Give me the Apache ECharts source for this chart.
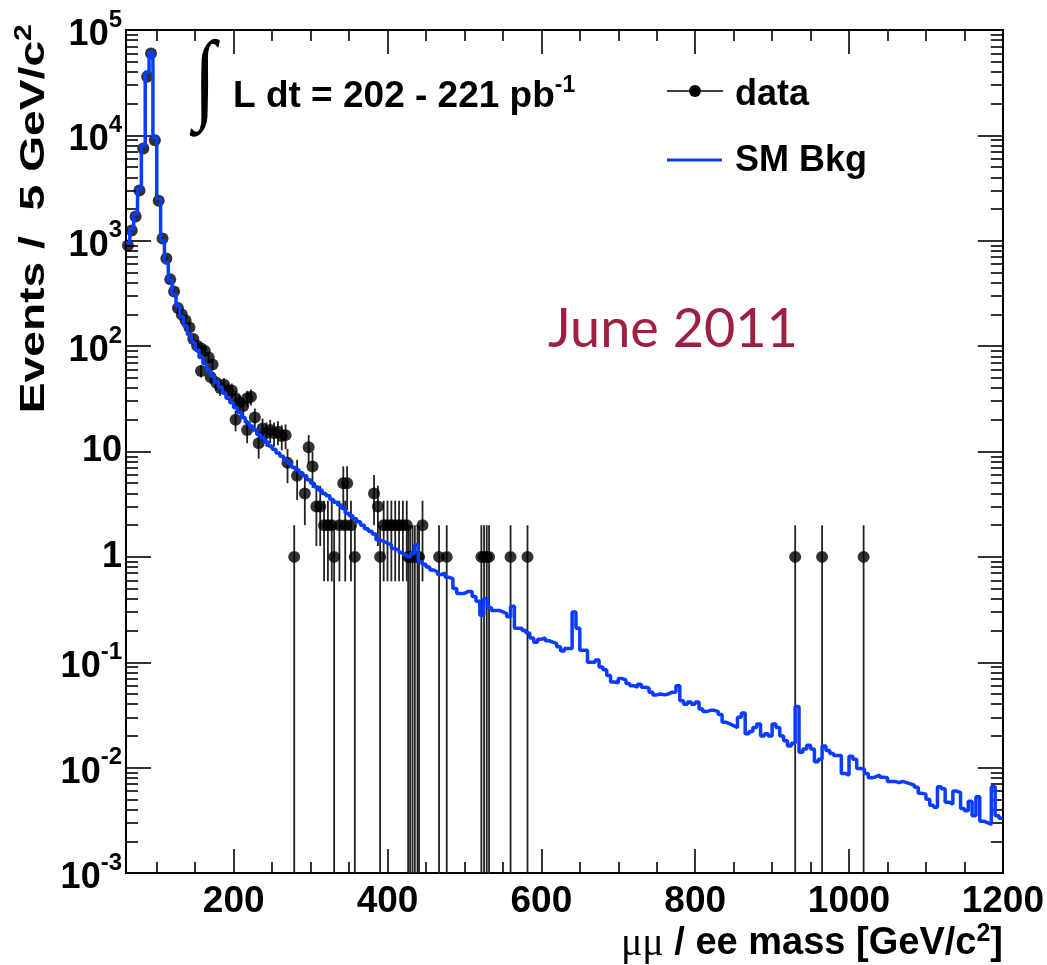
<!DOCTYPE html>
<html><head><meta charset="utf-8">
<script src="https://cdn.jsdelivr.net/npm/echarts@6/dist/echarts.min.js"></script>
<style>html,body{margin:0;padding:0;background:#fff}#c{width:1047px;height:965px}</style>
</head><body><div id="c"></div>
<script>
// ---- data ----
const dataMass = [62.5,67.5,72.5,77.5,82.5,87.5,92.5,97.5,102.5,107.5,112.5,117.5,122.5,127.5,132.5,137.5,142.5,147.5,152.5,157.5,162.5,157.5,167.5,172.5,170,177.5,182.5,187.5,192.5,197.5,202.5,202.5,207.5,212.5,217.5,222.5,217.5,227.5,232.5,237.5,242.5,247.5,252.5,257.5,262.5,267.5,270,278.7,282.5,292.5,297.5,302.5,307.5,312.5,317.5,322.5,327.5,330.6,337.5,342.5,347.5,345,352.5,357.5,382.5,387.5,390.4,395,400,405,410,415,420,425,426.8,429.4,432.5,435.5,439,441,445.5,467,477,522,525.5,529,532,560,582,930,965,1019];
const dataCounts = [900,1250,1700,3000,7500,36000,60000,9000,2400,1050,680,430,330,230,200,175,150,117,101,95,90,58,78,67,51,45,40,43,38,38,32,20,29,27,32,33,16,21,12,16.5,15,16,15,15.4,14,14.3,7.8,1,5.9,4,11,7.2,3,3,2,2,2,1,2,5,5,2,2,1,4,3,1,2,2,2,2,2,2,2,1,1,1,1,1,1,2,1,1,1,1,1,1,1,1,1,1,1];

const bkgStart = 60, bkgBinWidth = 5;
const bkgValues = [950,1300,1800,3100,8000,40000,62000,9500,2500,1000,
620,420,310,240,190,155,128,108,92,78,
68,59,52,46,41,36,32,29,26,23.5,
21,19,17.5,16,14.5,13.5,12.3,11.3,10.5,9.7,
9,8.3,7.7,7.1,6.7,6.3,5.9,5.4,5.0,4.6,
4.3,4.0,3.8,3.5,3.3,3.1,2.9,2.6,2.45,2.3,
2.15,2.0,1.85,1.75,1.65,1.45,1.4,1.35,1.3,1.2,
1.15,1.1,1.05,1.0,1.08,1.3,0.9,0.85,0.8,0.75,
0.72,0.68,0.7,0.64,0.62,0.5,0.45,0.45,0.47,0.47,
0.42,0.38,0.28,0.40,0.33,0.31,0.31,0.30,0.29,0.27,
0.34,0.21,0.21,0.2,0.19,0.17,0.155,0.165,0.17,0.16,
0.155,0.15,0.14,0.128,0.135,0.135,0.30,0.21,0.13,0.13,
0.10,0.10,0.105,0.09,0.085,0.075,0.065,0.064,0.07,0.068,
0.063,0.06,0.058,0.062,0.058,0.057,0.052,0.049,0.05,0.049,
0.05,0.052,0.052,0.06,0.043,0.04,0.042,0.04,0.042,0.036,
0.034,0.035,0.035,0.034,0.032,0.027,0.026,0.025,0.024,0.03,
0.033,0.021,0.022,0.024,0.026,0.02,0.021,0.02,0.026,0.024,
0.02,0.018,0.016,0.017,0.038,0.014,0.015,0.0163,0.015,0.0114,
0.012,0.016,0.0145,0.0136,0.013,0.013,0.0088,0.0085,0.0128,0.012,
0.0098,0.0097,0.0088,0.008,0.0082,0.0085,0.0081,0.008,0.0074,0.0074,
0.0072,0.0074,0.0072,0.007,0.0068,0.0065,0.0057,0.0056,0.005,0.0044,
0.0042,0.0066,0.0063,0.0047,0.0045,0.006,0.0058,0.0041,0.0039,0.0048,
0.0035,0.0053,0.0031,0.003,0.0029,0.0066,0.0035,0.0033];

const xMajorTicks = [200,400,600,800,1000,1200];
const xMinorTicks = [100,150,250,300,350,450,500,550,650,700,750,850,900,950,1050,1100,1150];
const yMajorTicks = [1e-3,1e-2,1e-1,1,10,100,1000,1e4,1e5];
const yMinorMult = [2,3,4,5,6,7,8,9];
const yMinorTicks = [];
[-3,-2,-1,0,1,2,3,4].forEach(k => yMinorMult.forEach(m => yMinorTicks.push(+(m*Math.pow(10,k)).toPrecision(3))));

// ---- build ----
const bkgLine = bkgValues.map((v,i) => [bkgStart + i*bkgBinWidth, v]);
bkgLine.push([bkgStart + bkgValues.length*bkgBinWidth, bkgValues[bkgValues.length-1]]);
const dataPts = dataMass.map((m,i) => [m, dataCounts[i]]);

const FONT = '"Liberation Sans", Arial, Helvetica, sans-serif';
const chart = echarts.init(document.getElementById('c'), null, {renderer:'canvas'});

function xAxisDef(pos, ticks, len, labels) {
  return {
    type:'value', position: pos, min:60, max:1200,
    axisLine:{show:true, lineStyle:{color:'#000', width:2}},
    axisTick:{show:true, inside:true, length:len, customValues:ticks, lineStyle:{color:'#000', width:1.6}},
    axisLabel: labels ? {show:true, customValues:xMajorTicks, margin:10, color:'#000',
       fontFamily:FONT, fontWeight:'bold', fontSize:37, formatter: v => String(v)} : {show:false},
    splitLine:{show:false}
  };
}
function yAxisDef(pos, ticks, len, labels) {
  return {
    type:'log', logBase:10, position: pos, min:1e-3, max:1e5,
    axisLine:{show:true, lineStyle:{color:'#000', width:2}},
    axisTick:{show:true, inside:true, length:len, customValues:ticks, lineStyle:{color:'#000', width:1.6}},
    axisLabel: labels ? {show:true, customValues:yMajorTicks, margin:4, color:'#000',
       fontFamily:FONT, fontWeight:'bold', fontSize:36,
       formatter: v => {
         const k = Math.round(Math.log10(v));
         if (k === 0) return '1';
         if (k === 1) return '10';
         return '{b|10}{sup|' + k + '}';
       },
       rich:{
         b:{fontSize:36, fontFamily:FONT, fontWeight:'bold', color:'#000', padding:[10,0,0,0]},
         sup:{fontSize:24, fontFamily:FONT, fontWeight:'bold', color:'#000', padding:[0,0,20,0]}
       }
    } : {show:false},
    splitLine:{show:false}, minorTick:{show:false}
  };
}

const option = {
  animation:false,
  backgroundColor:'#fff',
  grid:{left:126, right:44, top:30, bottom:92, containLabel:false},
  xAxis:[
    xAxisDef('bottom', xMajorTicks, 24, true),
    xAxisDef('bottom', xMinorTicks, 11, false),
    xAxisDef('top', xMajorTicks, 24, false),
    xAxisDef('top', xMinorTicks, 11, false)
  ],
  yAxis:[
    yAxisDef('left', yMajorTicks, 25, true),
    yAxisDef('left', yMinorTicks, 12, false),
    yAxisDef('right', yMajorTicks, 25, false),
    yAxisDef('right', yMinorTicks, 12, false)
  ],
  series:[
    {
      name:'data-err', type:'custom', xAxisIndex:0, yAxisIndex:0, data:dataPts, z:2, clip:true,
      renderItem:(params, api) => {
        const x = api.value(0), n = api.value(1), s = Math.sqrt(n);
        const lo = Math.max(n - s, 1e-3), hi = n + s;
        const p1 = api.coord([x, hi]), p2 = api.coord([x, lo]);
        return {type:'line', shape:{x1:p1[0], y1:p1[1], x2:p2[0], y2:p2[1]},
                style:{stroke:'#222', lineWidth:1.8}};
      }
    },
    {
      name:'data', type:'scatter', xAxisIndex:0, yAxisIndex:0, data:dataPts, z:3,
      symbol:'circle', symbolSize:12, itemStyle:{color:'#000'}
    },
    {
      name:'SM Bkg', type:'line', xAxisIndex:0, yAxisIndex:0, data:bkgLine, step:'end', z:4,
      showSymbol:false, symbol:'none', lineStyle:{color:'#0a3cff', width:3.5}
    }
  ],
  graphic:[
    // y-axis title
    {type:'text', x:34, y:24, rotation:Math.PI/2, scaleX:1.32, z:10,
     style:{text:'Events /  5 GeV/c{sup|2}', align:'right', verticalAlign:'middle',
       font:'bold 35px ' + FONT, fill:'#000',
       rich:{sup:{fontSize:23, fontWeight:'bold', fontFamily:FONT, fill:'#000', padding:[0,0,18,0]}}}},
    // x-axis title
    {type:'text', x:1003, y:944, z:10,
     style:{text:'{mu|μμ} / ee mass [GeV/c{sup|2}]', align:'right', verticalAlign:'middle',
       font:'bold 38px ' + FONT, fill:'#000',
       rich:{mu:{fontSize:40, fontFamily:'"Liberation Serif", "DejaVu Serif", serif', fontWeight:'normal', fill:'#000'},
             sup:{fontSize:25, fontWeight:'bold', fontFamily:FONT, fill:'#000', padding:[0,0,20,0]}}}},
    // integral
    {type:'text', x:205, y:84, scaleX:0.8, z:10,
     style:{text:'∫', align:'center', verticalAlign:'middle', font:'100px "Liberation Serif", "DejaVu Serif", serif', fill:'#000'}},
    {type:'text', x:233, y:97, z:10,
     style:{text:'L dt = 202 - 221 pb{sup|-1}', align:'left', verticalAlign:'middle',
       font:'bold 37px ' + FONT, fill:'#000',
       rich:{sup:{fontSize:23, fontWeight:'bold', fontFamily:FONT, fill:'#000', padding:[0,0,22,0]}}}},
    // legend
    {type:'line', z:10, shape:{x1:667, y1:91, x2:723, y2:91}, style:{stroke:'#000', lineWidth:1.6}},
    {type:'circle', z:10, shape:{cx:695, cy:91, r:6}, style:{fill:'#000'}},
    {type:'text', x:735, y:95, z:10, style:{text:'data', align:'left', verticalAlign:'middle', font:'bold 36px ' + FONT, fill:'#000'}},
    {type:'line', z:10, shape:{x1:667, y1:160, x2:722, y2:160}, style:{stroke:'#0a3cff', lineWidth:3}},
    {type:'text', x:735, y:161, z:10, style:{text:'SM Bkg', align:'left', verticalAlign:'middle', font:'bold 36px ' + FONT, fill:'#000'}},
    // date stamp
    {type:'text', x:548, y:330, z:10, style:{text:'June 2011', align:'left', verticalAlign:'middle', font:'54px Lato, "Open Sans", sans-serif', fill:'#9e1f3f'}}
  ]
};
chart.setOption(option);
</script>
</body></html>
